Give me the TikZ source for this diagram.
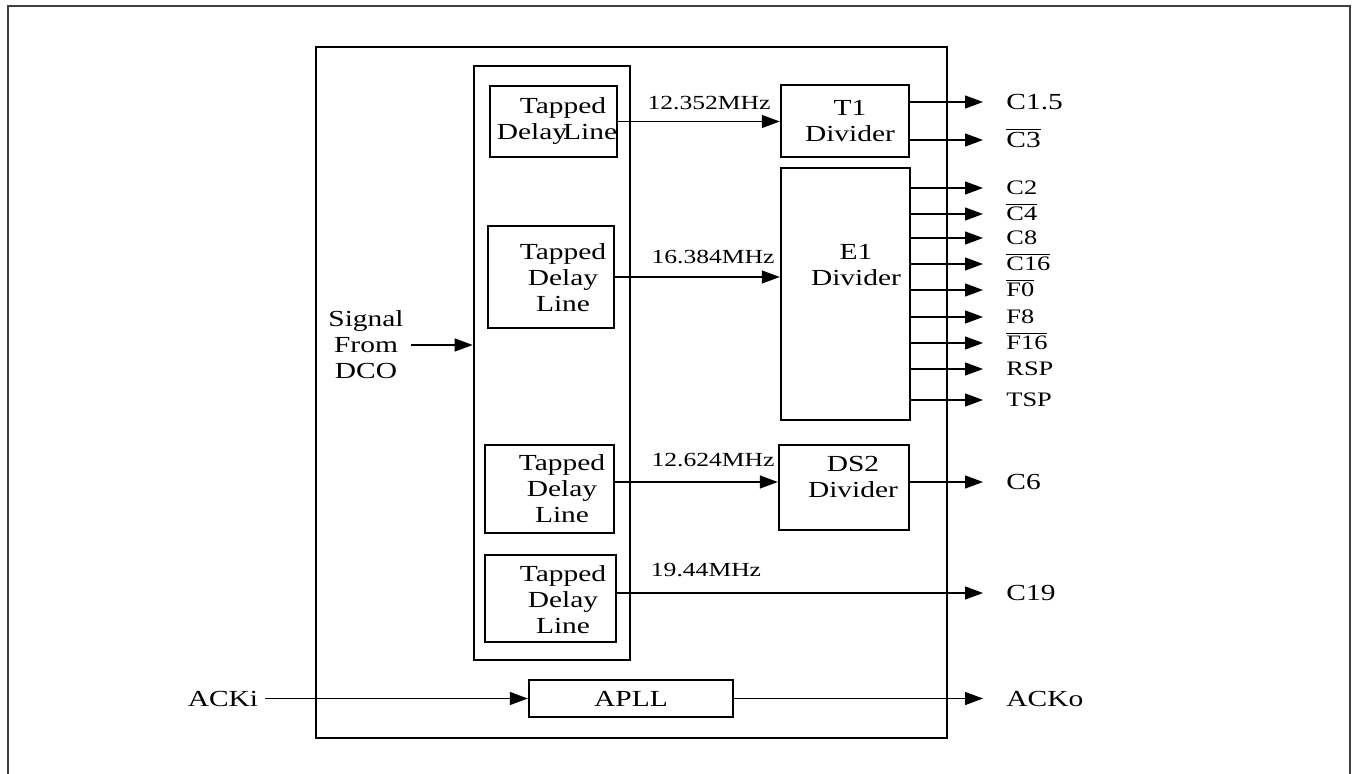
\documentclass[tikz,border=0pt]{standalone}
\usepackage{fontspec}
\setmainfont{Liberation Serif}[FakeStretch=1.28]
\usetikzlibrary{arrows.meta}
\newcommand{\ovl}[1]{$\overline{\mbox{#1}}$}

\begin{document}
\begin{tikzpicture}[x=0.5pt, y=-0.5pt,
    blk/.style={draw, line width=1.2pt, inner sep=0pt},
    txt/.style={align=center, font=\fontsize{11.5}{13}\selectfont},
    freq/.style={inner sep=0pt, font=\fontsize{10}{12}\selectfont},
    outlbl/.style={anchor=west, inner sep=0pt, text height=7.5pt, text depth=0pt, font=\fontsize{11.5}{13}\selectfont},
    outsm/.style={outlbl, text height=6.8pt, font=\fontsize{10.3}{11}\selectfont},
    sig/.style={line width=0.6pt, -{Triangle[length=9pt,width=6.5pt]}},
    outsig/.style={sig, shorten >=11.5pt}]
  \useasboundingbox (0,0) rectangle (1353,774);

  % frames
  \draw[black!75, line width=1pt] (8,774) -- (8,6) -- (1350,6) -- (1350,774);
  \draw[line width=1.4pt] (316,47) rectangle (947,738);

  % tapped delay lines
  \node[blk, line width=1.3pt, minimum width=78pt, minimum height=297pt] (bank) at (552,363) {};
  \node[blk, minimum width=63.5pt, minimum height=35.5pt] (tdlA) at (553.5,121.5) {};
  \node[txt] (tdlAt) at (557,121) {\hspace*{6pt}Tapped\\Delay\kern-2pt Line};
  \node[blk, minimum width=63pt, minimum height=51pt] (tdlB) at (551,277) {};
  \node[txt] (tdlBt) at (563,278) {Tapped\\Delay\\Line};
  \node[blk, minimum width=64.5pt, minimum height=44pt] (tdlC) at (549.5,489) {};
  \node[txt] (tdlCt) at (562,489) {Tapped\\Delay\\Line};
  \node[blk, minimum width=65.5pt, minimum height=43.5pt] (tdlD) at (550.5,598.5) {};
  \node[txt] (tdlDt) at (563,600) {Tapped\\Delay\\Line};

  % dividers
  \node[blk, minimum width=64pt, minimum height=36pt] (t1) at (845,121) {};
  \node[txt] (t1t) at (850,121) {T1\\Divider};
  \node[blk, minimum width=64.5pt, minimum height=126pt] (e1) at (845.5,294) {};
  \node[txt] (e1t) at (856,265) {E1\\Divider};
  \node[blk, minimum width=65pt, minimum height=42.5pt] (ds2) at (844,487.5) {};
  \node[txt] (ds2t) at (853,477) {DS2\\Divider};
  \node[blk, minimum width=102pt, minimum height=18.5pt, font=\fontsize{11.5}{13}\selectfont] (apll) at (631,698.5) {APLL};

  % input
  \node[txt] (dco) at (366,345) {Signal\\From\\DCO};
  \draw[sig] (dco.east) -- (dco.east -| bank.west);
  \node[txt] (acki) at (223,698.5) {ACKi};
  \draw[sig] (acki.east) -- (apll.west);

  % frequencies
  \node[freq] (fA) at (709,103) {12.352MHz};
  \node[freq] (fB) at (713,257) {16.384MHz};
  \node[freq] (fC) at (713,460) {12.624MHz};
  \node[freq] (fD) at (706,570) {19.44MHz};
  \draw[sig] (tdlA.east) -- (tdlA.east -| t1.west);
  \draw[sig] (tdlB.east) -- (tdlB.east -| e1.west);
  \draw[sig] ([yshift=3.5pt]tdlC.east) -- ([yshift=3.5pt]tdlC.east -| ds2.west);

  % outputs
  \node[outlbl] (c15) at (1006,102) {C1.5};
  \node[outlbl] (c3) at (1006,140) {\ovl{C3}};
  \draw[outsig] (t1.east |- c15.west) -- (c15.west);
  \draw[outsig] (t1.east |- c3.west) -- (c3.west);
  \foreach \yy/\nm/\lbl in {188/c2/C2, 214/c4/\ovl{C4}, 238/c8/C8, 264/c16/\ovl{C16},
      290/f0/\ovl{F0}, 317/f8/F8, 343/f16/\ovl{F16}, 369/rsp/RSP, 400/tsp/TSP}{
    \node[outsm] (\nm) at (1006,\yy) {\lbl};
    \draw[outsig] (e1.east |- \nm.west) -- (\nm.west);
  }
  \node[outlbl] (c6) at (1006,482) {C6};
  \draw[outsig] (ds2.east |- c6.west) -- (c6.west);
  \node[outlbl] (c19) at (1006,593) {C19};
  \draw[outsig] (tdlD.east |- c19.west) -- (c19.west);
  \node[outlbl] (acko) at (1006,698.5) {ACKo};
  \draw[outsig] (apll.east) -- (acko.west);
\end{tikzpicture}
\end{document}
